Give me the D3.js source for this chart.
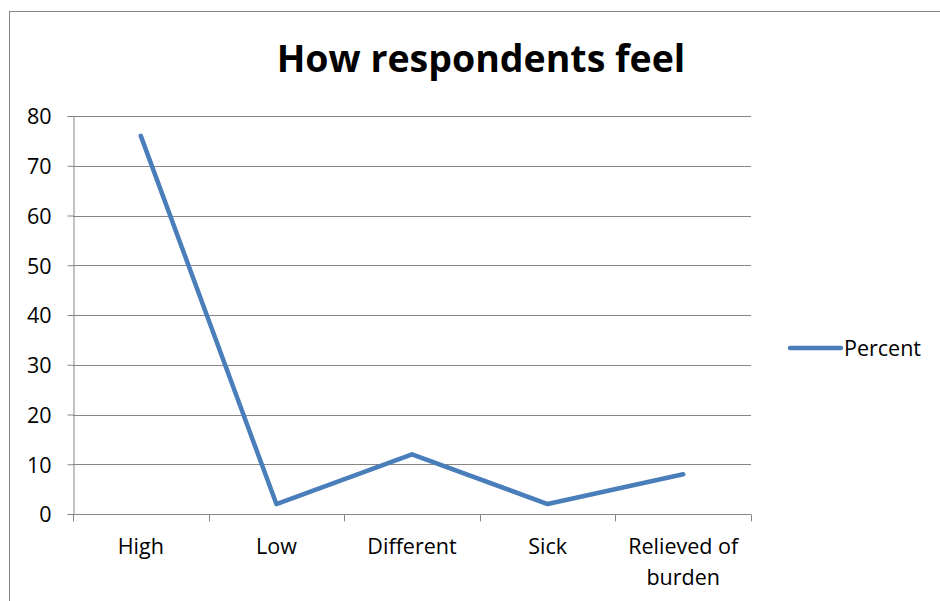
<!DOCTYPE html>
<html>
<head>
<meta charset="utf-8">
<script src="https://cdn.jsdelivr.net/npm/d3@7"></script>
<style>
  html, body { margin: 0; padding: 0; background: #fff; }
  svg { display: block; }
  text { font-family: "Open Sans", "Noto Sans", sans-serif; fill: #000; }
</style>
</head>
<body>
<svg id="chart" width="940" height="601"></svg>
<script>
const categories = ["High", "Low", "Different", "Sick", "Relieved of burden"];
const percentValues = [76, 2, 12, 2, 8];
const yTicks = [0, 10, 20, 30, 40, 50, 60, 70, 80];
const seriesName = "Percent";
const chartTitle = "How respondents feel";

const svg = d3.select("#chart");
const plot = { left: 73, right: 751, top: 116, bottom: 514 };
const labelSize = 21.5;

// outer chart frame
svg.append("rect")
  .attr("x", 9.5).attr("y", 11.5)
  .attr("width", 960).attr("height", 620)
  .attr("fill", "#fff").attr("stroke", "#868686").attr("stroke-width", 1);

const x = d3.scaleBand().domain(categories).range([plot.left, plot.right]).padding(0);
const y = d3.scaleLinear().domain([0, 80]).range([plot.bottom, plot.top]);

// horizontal gridlines
svg.append("g")
  .selectAll("line")
  .data(yTicks.filter(d => d > 0))
  .join("line")
  .attr("x1", plot.left).attr("x2", plot.right)
  .attr("y1", d => Math.round(y(d)) + 0.5).attr("y2", d => Math.round(y(d)) + 0.5)
  .attr("stroke", "#868686").attr("stroke-width", 1);

// y axis
const yAxis = svg.append("g")
  .attr("transform", `translate(${plot.left + 0.5},0)`)
  .call(d3.axisLeft(y).tickValues(yTicks).tickSize(6).tickPadding(16).tickFormat(d3.format("d")));
yAxis.attr("font-size", null).attr("font-family", null);
yAxis.select(".domain").attr("stroke", "#868686");
yAxis.selectAll(".tick line").attr("stroke", "#868686");
yAxis.selectAll(".tick text")
  .attr("font-size", labelSize)
  .attr("fill", "#000")
  .attr("dy", "0.36em");

// x axis with ticks at category boundaries
const xAxis = svg.append("g")
  .attr("transform", `translate(0,${Math.round(y(0)) + 0.5})`);
xAxis.append("line")
  .attr("x1", plot.left).attr("x2", plot.right)
  .attr("stroke", "#868686");
const boundaries = categories.map(c => x(c)).concat([x(categories[categories.length - 1]) + x.bandwidth()]);
xAxis.selectAll("line.tick")
  .data(boundaries)
  .join("line")
  .attr("class", "tick")
  .attr("x1", d => Math.round(d) + 0.5).attr("x2", d => Math.round(d) + 0.5)
  .attr("y1", 0).attr("y2", 7)
  .attr("stroke", "#868686");

// category labels, wrapped to fit the band
const labelWrap = { "Relieved of burden": ["Relieved of", "burden"] };
const catLabels = svg.append("g")
  .selectAll("text")
  .data(categories)
  .join("text")
  .attr("x", d => x(d) + x.bandwidth() / 2)
  .attr("y", 554)
  .attr("text-anchor", "middle")
  .attr("font-size", labelSize);
catLabels.each(function(d) {
  const lines = labelWrap[d] || [d];
  d3.select(this).selectAll("tspan")
    .data(lines)
    .join("tspan")
    .attr("x", x(d) + x.bandwidth() / 2)
    .attr("dy", (l, i) => i === 0 ? 0 : 31)
    .text(l => l);
});

// series line
const line = d3.line()
  .x((d, i) => x(categories[i]) + x.bandwidth() / 2)
  .y(d => y(d));
svg.append("path")
  .datum(percentValues)
  .attr("d", line)
  .attr("fill", "none")
  .attr("stroke", "#4a7ebb")
  .attr("stroke-width", 4.5)
  .attr("stroke-linecap", "round")
  .attr("stroke-linejoin", "round");

// title
svg.append("text")
  .attr("x", 481).attr("y", 72)
  .attr("text-anchor", "middle")
  .attr("font-size", 37.5)
  .attr("font-weight", "bold")
  .text(chartTitle);

// legend
const legend = svg.append("g").attr("transform", "translate(790,348)");
legend.append("line")
  .attr("x1", 0).attr("x2", 51).attr("y1", 0).attr("y2", 0)
  .attr("stroke", "#4a7ebb").attr("stroke-width", 4.5).attr("stroke-linecap", "round");
legend.append("text")
  .attr("x", 54).attr("y", 7.5)
  .attr("font-size", labelSize)
  .text(seriesName);
</script>
</body>
</html>
